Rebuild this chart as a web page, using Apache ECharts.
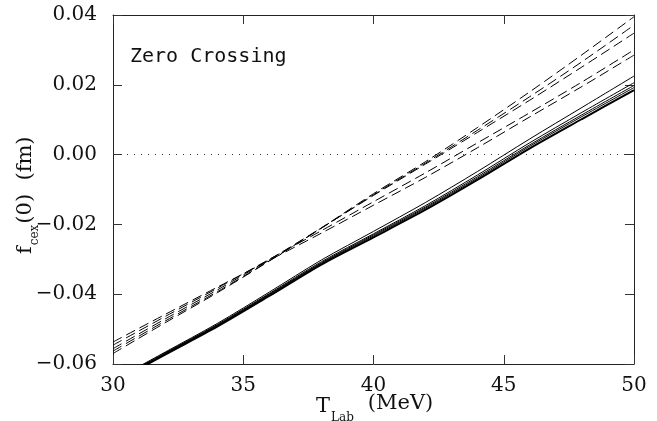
<!DOCTYPE html>
<html>
<head>
<meta charset="utf-8">
<script src="https://cdn.jsdelivr.net/npm/echarts@6/dist/echarts.min.js"></script>
<style>
  html, body { margin: 0; padding: 0; background: #fff; }
  #chart { width: 657px; height: 421px; }
</style>
</head>
<body>
<div id="chart"></div>
<script>
// T_Lab (MeV) sample points
const tLab = [30, 32, 34, 36, 38, 40, 42, 44, 46, 48, 50]

// solid curves, f_cex(0) in fm
const solid1 = [-0.0655, -0.0573, -0.0493, -0.0405, -0.0315, -0.0237, -0.0158, -0.0072, 0.0018, 0.0102, 0.0185]
const solid2 = [-0.0653, -0.0571, -0.0490, -0.0402, -0.0312, -0.0233, -0.0153, -0.0067, 0.0024, 0.0109, 0.0192]
const solid3 = [-0.0652, -0.0570, -0.0489, -0.0400, -0.0310, -0.0230, -0.0150, -0.0063, 0.0028, 0.0114, 0.0198]
const solid4 = [-0.0650, -0.0568, -0.0487, -0.0398, -0.0307, -0.0227, -0.0146, -0.0058, 0.0034, 0.0121, 0.0206]
const solid5 = [-0.0648, -0.0566, -0.0484, -0.0394, -0.0302, -0.0220, -0.0137, -0.0048, 0.0045, 0.0135, 0.0225]

// dashed curves
const dashed1 = [-0.0570, -0.0482, -0.0396, -0.0305, -0.0210, -0.0112, -0.0020, 0.0078, 0.0180, 0.0286, 0.0395]
const dashed2 = [-0.0563, -0.0477, -0.0393, -0.0304, -0.0211, -0.0115, -0.0024, 0.0070, 0.0166, 0.0266, 0.0371]
const dashed3 = [-0.0556, -0.0471, -0.0388, -0.0301, -0.0210, -0.0117, -0.0027, 0.0064, 0.0156, 0.0251, 0.0348]
const dashed4 = [-0.0546, -0.0464, -0.0383, -0.0300, -0.0218, -0.0135, -0.0052, 0.0034, 0.0120, 0.0208, 0.0300]
const dashed5 = [-0.0537, -0.0458, -0.0380, -0.0303, -0.0225, -0.0145, -0.0065, 0.0020, 0.0108, 0.0195, 0.0285]

// axis ticks
const xTicks = [30, 35, 40, 45, 50]
const yTicks = [-0.06, -0.04, -0.02, 0.00, 0.02, 0.04]

const serif = 'DejaVu Serif'

function pairs (ys) {
  return tLab.map((t, i) => [t, ys[i]])
}

function lineSeries (ys, dashed, width) {
  return {
    type: 'line',
    data: pairs(ys),
    smooth: 0.3,
    symbol: 'none',
    silent: true,
    animation: false,
    lineStyle: {
      color: '#000',
      width: width,
      type: dashed ? [10, 5] : 'solid'
    }
  }
}

const yFmt = v => {
  const s = (Math.round(v * 100) / 100).toFixed(2)
  return s.replace('-', '\u2212')
}

const tickStyle = { show: true, inside: true, length: 9, lineStyle: { color: '#333', width: 1 } }
const lineAxis = { show: true, onZero: false, lineStyle: { color: '#222', width: 1 } }

const chart = echarts.init(document.getElementById('chart'))
chart.setOption({
  backgroundColor: '#fff',
  animation: false,
  grid: { left: 113, right: 23, top: 15, bottom: 57, outerBoundsMode: 'none', containLabel: false },
  xAxis: [
    {
      type: 'value',
      min: xTicks[0],
      max: xTicks[xTicks.length - 1],
      interval: xTicks[1] - xTicks[0],
      axisLine: lineAxis,
      axisTick: tickStyle,
      splitLine: { show: false },
      axisLabel: { color: '#111', fontFamily: serif, fontSize: 20, margin: 12 }
    },
    {
      type: 'value',
      position: 'top',
      min: xTicks[0],
      max: xTicks[xTicks.length - 1],
      interval: xTicks[1] - xTicks[0],
      axisLine: lineAxis,
      axisTick: tickStyle,
      axisLabel: { show: false },
      splitLine: { show: false }
    }
  ],
  yAxis: [
    {
      type: 'value',
      min: yTicks[0],
      max: yTicks[yTicks.length - 1],
      interval: 0.02,
      axisLine: lineAxis,
      axisTick: tickStyle,
      splitLine: { show: false },
      axisLabel: { color: '#111', fontFamily: serif, fontSize: 20, margin: 16, formatter: yFmt }
    },
    {
      type: 'value',
      position: 'right',
      min: yTicks[0],
      max: yTicks[yTicks.length - 1],
      interval: 0.02,
      axisLine: lineAxis,
      axisTick: tickStyle,
      axisLabel: { show: false },
      splitLine: { show: false }
    }
  ],
  graphic: [
    {
      type: 'text',
      left: 130,
      top: 47,
      style: { text: 'Zero Crossing', fontFamily: 'DejaVu Sans Mono', fontSize: 20, fill: '#111' }
    },
    // x axis title: T with subscript Lab
    {
      type: 'text',
      x: 316,
      y: 407,
      style: {
        text: '{t|T}{s|Lab}{u|(MeV)}',
        verticalAlign: 'middle',
        rich: {
          t: { fontFamily: serif, fontSize: 21, fill: '#111', padding: [0, 0, 0, 0] },
          s: { fontFamily: serif, fontSize: 12, fill: '#111', padding: [22, 14, 0, 1] },
          u: { fontFamily: serif, fontSize: 21, fill: '#111', padding: [0, 0, 6, 0] }
        }
      }
    },
    // y axis title: f with subscript cex, rotated
    {
      type: 'text',
      x: 26,
      y: 254,
      rotation: Math.PI / 2,
      style: {
        text: '{f|f}{s|cex}{f|(0)  (fm)}',
        verticalAlign: 'middle',
        rich: {
          f: { fontFamily: serif, fontSize: 21, fill: '#111' },
          s: { fontFamily: serif, fontSize: 12, fill: '#111', padding: [18, 1, 0, 1] }
        }
      }
    }
  ],
  series: [
    {
      type: 'line',
      data: [],
      silent: true,
      markLine: {
        silent: true,
        symbol: 'none',
        label: { show: false },
        lineStyle: { color: '#333', type: [1, 6], width: 1 },
        data: [{ yAxis: 0 }]
      }
    },
    lineSeries(solid1, false, 2),
    lineSeries(solid2, false, 1),
    lineSeries(solid3, false, 1),
    lineSeries(solid4, false, 1),
    lineSeries(solid5, false, 1),
    lineSeries(dashed1, true, 1),
    lineSeries(dashed2, true, 1),
    lineSeries(dashed3, true, 1),
    lineSeries(dashed4, true, 1),
    lineSeries(dashed5, true, 1)
  ]
})
</script>
</body>
</html>
